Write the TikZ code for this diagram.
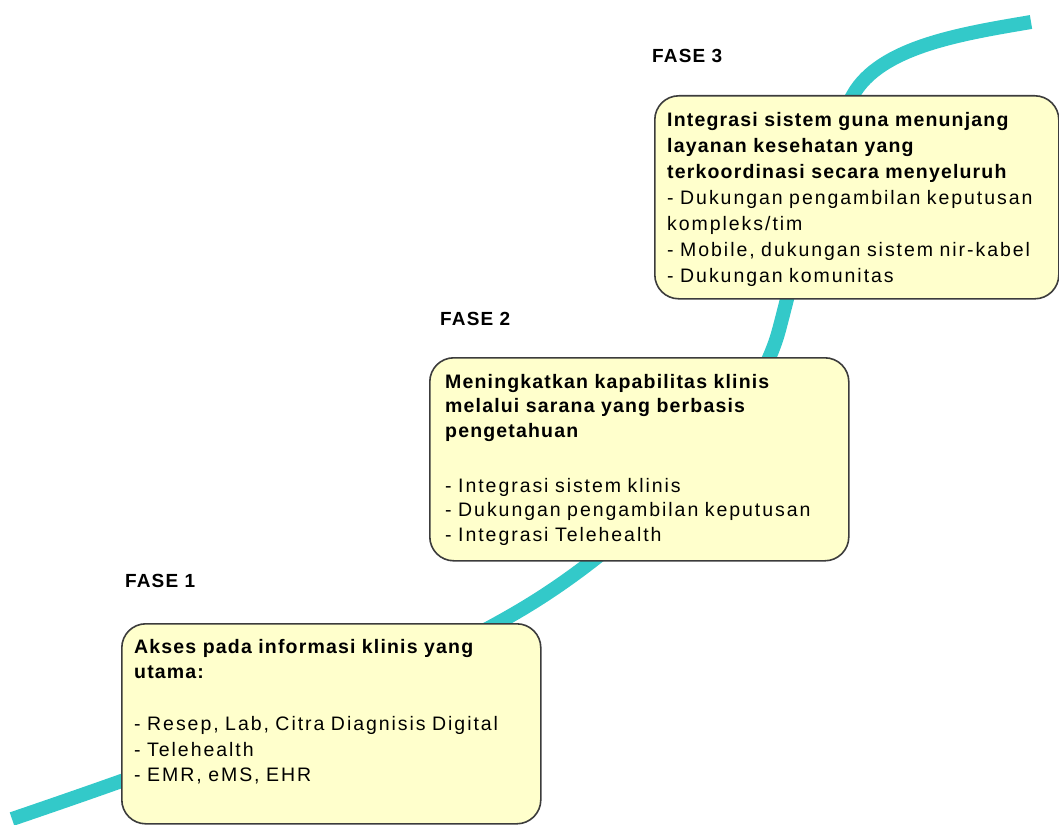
\documentclass[tikz,border=0pt]{standalone}
\usepackage{fontspec}
\setmainfont{Liberation Sans}[LetterSpace=10,BoldFeatures={LetterSpace=6}]
\definecolor{tealline}{RGB}{51,201,201}
\definecolor{boxfill}{RGB}{255,255,204}
\definecolor{boxline}{RGB}{60,60,60}
\begin{document}
\begin{tikzpicture}[x=1pt,y=-1pt,
  phasebox/.style={draw=boxline, line width=1.6pt, fill=boxfill, rounded corners=24pt,
    inner sep=0pt, anchor=north west},
  bodytext/.style={inner sep=0pt, anchor=base west, align=left, text width=#1},
  phaselabel/.style={inner sep=0pt, anchor=base west, font=\fontsize{19}{24}\selectfont\bfseries}]
\useasboundingbox (0,0) rectangle (1059,824);
% the teal path behind the boxes
\draw[tealline, line width=14pt]
  (12,819) .. controls (200,755) and (420,675) .. (540,598)
           .. controls (640,534) and (755,420) .. (779,330)
           .. controls (797,262) and (822,150) .. (853,95)
           .. controls (880,47) and (960,34) .. (1031,22);
% boxes
\node[phasebox, minimum width=419pt, minimum height=200pt] (b1) at (121,623) {};
\node[phasebox, minimum width=419pt, minimum height=203pt] (b2) at (429,357) {};
\node[phasebox, minimum width=404pt, minimum height=203pt] (b3) at (654,95) {};
% labels
\node[phaselabel] (f1) at (125,587) {FASE 1};
\node[phaselabel] (f2) at (440,325) {FASE 2};
\node[phaselabel] (f3) at (652,63) {FASE 3};
% texts
\node[bodytext=400pt, font=\fontsize{19.5}{25.5}\selectfont] (t1) at (134,653)
  {\textbf{Akses pada informasi klinis yang}\\\textbf{utama:}\\[26.5pt]- Resep, Lab, Citra Diagnisis Digital\\- Telehealth\\- EMR, eMS, EHR};
\node[bodytext=400pt, font=\fontsize{19.5}{24.5}\selectfont] (t2) at (445,388)
  {\textbf{Meningkatkan kapabilitas klinis}\\\textbf{melalui sarana yang berbasis}\\\textbf{pengetahuan}\\[30.5pt]- Integrasi sistem klinis\\- Dukungan pengambilan keputusan\\- Integrasi Telehealth};
\node[bodytext=390pt, font=\fontsize{19.5}{26}\selectfont] (t3) at (667,126)
  {\textbf{Integrasi sistem guna menunjang}\\\textbf{layanan kesehatan yang}\\\textbf{terkoordinasi secara menyeluruh}\\- Dukungan pengambilan keputusan\\kompleks/tim\\- Mobile, dukungan sistem nir-kabel\\- Dukungan komunitas};
\end{tikzpicture}
\end{document}
